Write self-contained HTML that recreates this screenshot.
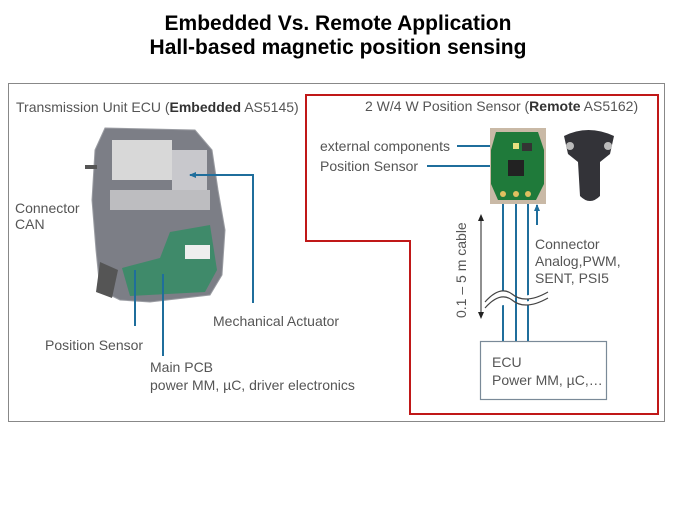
<!DOCTYPE html>
<html><head><meta charset="utf-8"><style>
html,body{margin:0;padding:0;background:#fff;}
svg{display:block;font-family:"Liberation Sans",sans-serif;}
</style></head><body>
<svg width="675" height="506" viewBox="0 0 675 506" xmlns="http://www.w3.org/2000/svg">
<defs>
<marker id="ah" markerWidth="8" markerHeight="8" refX="6" refY="4" orient="auto" markerUnits="userSpaceOnUse"><path d="M0,1 L7,4 L0,7 Z" fill="#1f6e9c"/></marker>
<marker id="bk" markerWidth="8" markerHeight="8" refX="6" refY="4" orient="auto" markerUnits="userSpaceOnUse"><path d="M0,1 L7,4 L0,7 Z" fill="#222"/></marker>
</defs>
<text x="338" y="30" text-anchor="middle" font-size="21" font-weight="bold" fill="#000">Embedded Vs. Remote Application</text>
<text x="338" y="54" text-anchor="middle" font-size="21" font-weight="bold" fill="#000">Hall-based magnetic position sensing</text>
<rect x="8.5" y="83.5" width="656" height="338" fill="#fff" stroke="#888" stroke-width="1"/>
<path d="M306,95 H658 V414 H410 V241 H306 Z" fill="none" stroke="#c01818" stroke-width="2"/>

<!-- embedded device -->
<g>
<path d="M105,128 L195,130 L212,150 L218,190 L225,230 L222,275 L210,295 L150,302 L120,300 L100,290 L96,250 L92,200 L95,150 Z" fill="#7c7e86" stroke="#9a9ca2"/>
<rect x="112" y="140" width="60" height="40" fill="#d8d8d8"/>
<rect x="172" y="150" width="35" height="45" fill="#c8c8cc"/>
<rect x="110" y="190" width="100" height="20" fill="#bdbdc0"/>
<path d="M170,232 L210,225 L217,270 L205,292 L130,296 L122,268 L160,258 Z" fill="#3f8a6a"/>
<rect x="185" y="245" width="25" height="14" fill="#eee"/>
<path d="M100,262 L118,270 L112,298 L96,292 Z" fill="#555"/>
<rect x="85" y="165" width="12" height="4" fill="#555"/>
</g>

<text x="16" y="112" font-size="14" fill="#555">Transmission Unit ECU (<tspan font-weight="bold" fill="#333">Embedded</tspan> AS5145)</text>
<text x="15" y="213" font-size="14" fill="#555">Connector</text>
<text x="15" y="229" font-size="14" fill="#555">CAN</text>
<text x="45" y="350" font-size="14" fill="#555">Position Sensor</text>
<text x="150" y="372" font-size="14" fill="#555">Main PCB</text>
<text x="150" y="390" font-size="14" fill="#555">power MM, µC, driver electronics</text>
<text x="213" y="326" font-size="14" fill="#555">Mechanical Actuator</text>

<g stroke="#1f6e9c" stroke-width="2" fill="none">
<path d="M253,303 V175 H190" marker-end="url(#ah)"/>
<path d="M135,270 V326"/>
<path d="M163,274 V356"/>
<path d="M457,146 H512" marker-end="url(#ah)"/>
<path d="M427,166 H506" marker-end="url(#ah)"/>
<path d="M503,196 V341 M516,196 V341 M528,196 V341"/>
<path d="M537,225 V205" marker-end="url(#ah)"/>
</g>

<!-- remote PCB & sensor -->
<rect x="490" y="128" width="56" height="76" fill="#c9b9a6"/>
<path d="M496,132 H538 L544,150 V184 L536,200 H498 L491,184 V150 Z" fill="#1f7a3a"/>
<rect x="508" y="160" width="16" height="16" fill="#222"/>
<rect x="513" y="143" width="6" height="6" fill="#e8e080"/>
<rect x="522" y="143" width="10" height="8" fill="#333"/>
<circle cx="503" cy="194" r="3" fill="#e0c060"/><circle cx="516" cy="194" r="3" fill="#e0c060"/><circle cx="528" cy="194" r="3" fill="#e0c060"/>
<path d="M564,136 Q588,124 614,136 L610,154 L600,162 L600,196 Q590,206 580,196 L578,162 L568,154 Z" fill="#333338"/>
<circle cx="570" cy="146" r="4" fill="#bbb"/><circle cx="608" cy="146" r="4" fill="#bbb"/>

<text x="365" y="111" font-size="14" fill="#555">2 W/4 W Position Sensor (<tspan font-weight="bold" fill="#333">Remote</tspan> AS5162)</text>
<text x="320" y="151" font-size="14" fill="#555">external components</text>
<text x="320" y="171" font-size="14" fill="#555">Position Sensor</text>
<text x="535" y="249" font-size="14" fill="#555">Connector</text>
<text x="535" y="266" font-size="14" fill="#555">Analog,PWM,</text>
<text x="535" y="283" font-size="14" fill="#555">SENT, PSI5</text>
<text transform="translate(466,318) rotate(-90)" font-size="14" fill="#555">0.1 – 5 m cable</text>

<path d="M481,318 V215" stroke="#222" stroke-width="1" marker-end="url(#bk)"/>
<path d="M481,215 V318" stroke="#222" stroke-width="1" marker-end="url(#bk)"/>
<path d="M485,302 Q500,285 512,294 Q525,305 548,292 M485,308 Q500,291 512,300 Q525,311 548,298" stroke="#444" stroke-width="1.2" fill="#fff"/>

<rect x="480.5" y="341.5" width="126" height="58" fill="#fff" stroke="#7a8a98" stroke-width="1.2"/>
<text x="492" y="367" font-size="14" fill="#555">ECU</text>
<text x="492" y="385" font-size="14" fill="#555">Power MM, µC,…</text>
</svg>
</body></html>
